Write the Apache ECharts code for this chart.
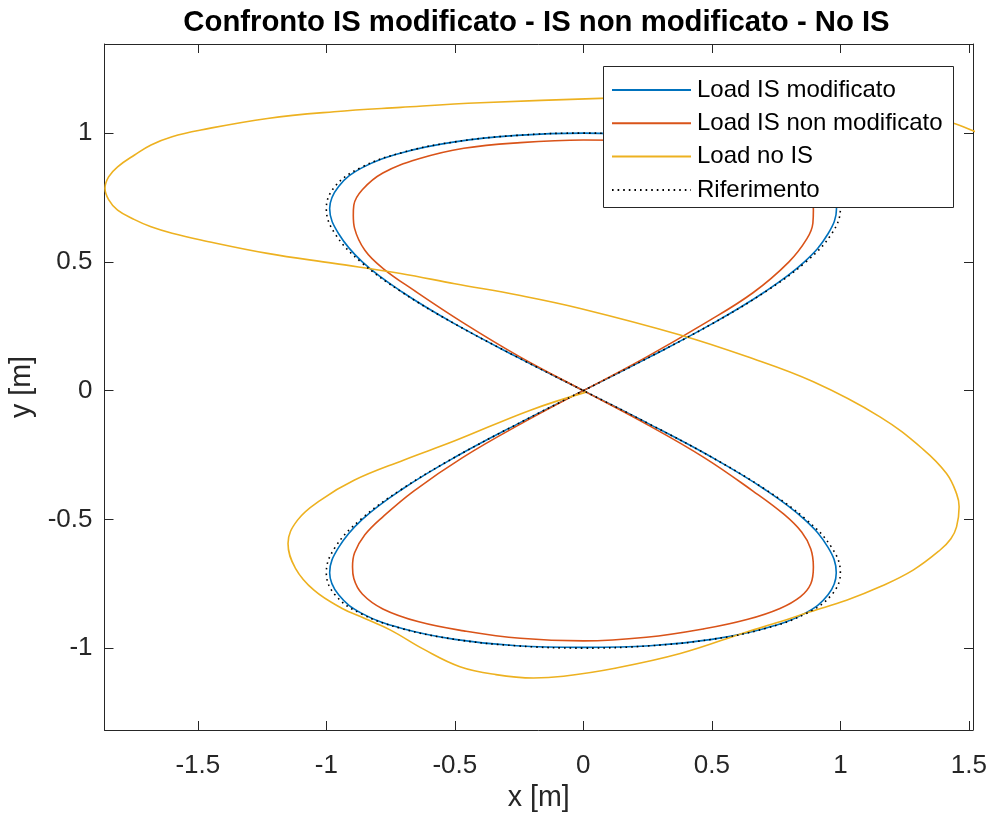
<!DOCTYPE html>
<html><head><meta charset="utf-8">
<script src="https://cdn.jsdelivr.net/npm/echarts@6/dist/echarts.min.js"></script>
<style>html,body{margin:0;padding:0;background:#fff}#c{width:989px;height:818px}</style>
</head><body><div id="c"></div>
<script>
const titleText = 'Confronto IS modificato - IS non modificato - No IS';
const seriesNames = ['Load IS modificato', 'Load IS non modificato', 'Load no IS', 'Riferimento'];
const xTicks = [-1.5, -1, -0.5, 0, 0.5, 1, 1.5];
const yTicks = [-1, -0.5, 0, 0.5, 1];
const xRange = [-1.863, 1.516];
const yRange = [-1.318, 1.346];

// Riferimento (dotted)
const refX = [0, 0.259, 0.5, 0.707, 0.866, 0.966, 1.0, 0.966, 0.866, 0.707, 0.5, 0.259, 0, -0.259, -0.5, -0.707, -0.866, -0.966, -1.0, -0.966, -0.866, -0.707, -0.5, -0.259, 0,
              0.259, 0.5, 0.707, 0.866, 0.966, 1.0, 0.966, 0.866, 0.707, 0.5, 0.259, 0, -0.259, -0.5, -0.707, -0.866, -0.966, -1.0, -0.966, -0.866, -0.707, -0.5, -0.259, 0];
const refY = [0, 0.131, 0.259, 0.383, 0.5, 0.609, 0.707, 0.793, 0.866, 0.924, 0.966, 0.991, 1.0, 0.991, 0.966, 0.924, 0.866, 0.793, 0.707, 0.609, 0.5, 0.383, 0.259, 0.131, 0,
              -0.131, -0.259, -0.383, -0.5, -0.609, -0.707, -0.793, -0.866, -0.924, -0.966, -0.991, -1.0, -0.991, -0.966, -0.924, -0.866, -0.793, -0.707, -0.609, -0.5, -0.383, -0.259, -0.131, 0];

// Load IS modificato (blue)
const blueX = [0, 0.259, 0.5, 0.705, 0.86, 0.952, 0.985, 0.952, 0.86, 0.705, 0.5, 0.259, 0, -0.259, -0.5, -0.705, -0.86, -0.952, -0.987, -0.952, -0.86, -0.705, -0.5, -0.259, 0,
               0.259, 0.5, 0.705, 0.86, 0.952, 0.984, 0.952, 0.86, 0.705, 0.5, 0.259, 0, -0.259, -0.5, -0.705, -0.86, -0.952, -0.987, -0.952, -0.86, -0.705, -0.5, -0.259, 0];
const blueY = [0, 0.131, 0.259, 0.383, 0.5, 0.609, 0.707, 0.793, 0.866, 0.924, 0.966, 0.991, 1.0, 0.991, 0.966, 0.924, 0.866, 0.793, 0.707, 0.609, 0.5, 0.383, 0.259, 0.131, 0,
               -0.131, -0.259, -0.383, -0.5, -0.609, -0.707, -0.793, -0.866, -0.924, -0.966, -0.991, -0.997, -0.991, -0.966, -0.924, -0.866, -0.793, -0.707, -0.609, -0.5, -0.383, -0.259, -0.131, 0];

// Load IS non modificato (red)
const redX = [0, 0.245, 0.47, 0.66, 0.8, 0.87, 0.893, 0.895, 0.893, 0.87, 0.8, 0.66, 0.47, 0.245, 0,
              -0.245, -0.465, -0.64, -0.78, -0.86, -0.893, -0.895, -0.89, -0.85, -0.78, -0.66, -0.47, -0.245, 0,
              0.245, 0.47, 0.66, 0.78, 0.85, 0.885, 0.895, 0.885, 0.845, 0.765, 0.64, 0.47, 0.245, 0,
              -0.245, -0.465, -0.64, -0.78, -0.86, -0.893, -0.898, -0.89, -0.85, -0.78, -0.66, -0.47, -0.245, 0];
const redY = [0, 0.13, 0.26, 0.38, 0.5, 0.59, 0.65, 0.7, 0.75, 0.81, 0.865, 0.915, 0.95, 0.968, 0.973,
              0.963, 0.941, 0.9, 0.845, 0.78, 0.72, 0.68, 0.63, 0.545, 0.475, 0.39, 0.265, 0.13, 0,
              -0.13, -0.26, -0.39, -0.48, -0.55, -0.615, -0.685, -0.75, -0.8, -0.846, -0.888, -0.925, -0.958, -0.972,
              -0.962, -0.933, -0.898, -0.848, -0.79, -0.73, -0.685, -0.63, -0.56, -0.49, -0.39, -0.26, -0.13, 0];

// Load no IS (yellow)
const yelX = [1.6, 1.516, 1.432, 1.3, 1.1, 0.8, 0.4, 0.066, -0.4, -0.711, -0.97, -1.229, -1.488, -1.6, -1.682, -1.746, -1.812, -1.847, -1.861, -1.847, -1.812, -1.746, -1.682, -1.6, -1.488, -1.229, -0.97, -0.711, -0.5, -0.25, -0.012,
              0.377, 0.636, 0.895, 1.154, 1.322, 1.413, 1.452, 1.462, 1.452, 1.43, 1.387, 1.283, 1.154, 1.024, 0.882, 0.765, 0.636, 0.377, 0.118, -0.077, -0.194, -0.34, -0.48, -0.62, -0.75, -0.85,
              -0.94, -1.048, -1.12, -1.149, -1.112, -1.022, -0.892, -0.7, -0.5, -0.206, 0.014];
const yelY = [0.97, 1.009, 1.04, 1.065, 1.095, 1.125, 1.14, 1.135, 1.118, 1.1, 1.083, 1.057, 1.012, 0.986, 0.954, 0.915, 0.869, 0.83, 0.786, 0.742, 0.701, 0.664, 0.636, 0.611, 0.585, 0.533, 0.494, 0.455, 0.415, 0.37, 0.319,
              0.216, 0.132, 0.034, -0.102, -0.228, -0.322, -0.4, -0.451, -0.529, -0.575, -0.62, -0.697, -0.762, -0.814, -0.859, -0.898, -0.937, -1.021, -1.079, -1.109, -1.116, -1.103, -1.072, -1.005, -0.93, -0.885,
              -0.845, -0.775, -0.69, -0.594, -0.503, -0.425, -0.348, -0.27, -0.195, -0.076, -0.005];

const colors = ['#0072BD', '#D95319', '#EDB120', '#000000'];
const FONT = '"Liberation Sans", Arial, Helvetica, sans-serif';
const AX = '#262626';

function pairs(xs, ys) { return xs.map((x, i) => [x, ys[i]]); }

const chart = echarts.init(document.getElementById('c'), null, {renderer: 'canvas'});

function axisCommon(range, ticks, showLabel, margin) {
  return {
    type: 'value', min: range[0], max: range[1],
    axisLine: {show: true, onZero: false, lineStyle: {color: AX, width: 1}},
    axisTick: {show: true, inside: true, length: 9, customValues: ticks, lineStyle: {color: AX, width: 1}},
    axisLabel: {show: showLabel, customValues: ticks, color: AX, fontFamily: FONT, fontSize: 26, margin: margin},
    splitLine: {show: false}
  };
}

const xBottom = Object.assign(axisCommon(xRange, xTicks, true, 23), {
  position: 'bottom', name: 'x [m]', nameLocation: 'middle', nameGap: 54, nameMoveOverlap: false,
  nameTextStyle: {color: AX, fontFamily: FONT, fontSize: 28.6}
});
const xTop = Object.assign(axisCommon(xRange, xTicks, false, 8), {position: 'top'});
const yLeft = Object.assign(axisCommon(yRange, yTicks, true, 12), {
  position: 'left', name: 'y [m]', nameLocation: 'middle', nameGap: 68, nameMoveOverlap: false,
  nameTextStyle: {color: AX, fontFamily: FONT, fontSize: 28.6}
});
const yRight = Object.assign(axisCommon(yRange, yTicks, false, 8), {position: 'right'});

function lineSeries(name, data, color, extra) {
  return Object.assign({
    name: name, type: 'line', data: data, xAxisIndex: 0, yAxisIndex: 0,
    showSymbol: false, symbol: 'none', smooth: 0.4, clip: true, animation: false,
    lineStyle: {color: color, width: 1.6}, itemStyle: {color: color}
  }, extra || {});
}

const legendBox = {left: 603, top: 66, width: 350, height: 141};

chart.setOption({
  backgroundColor: '#ffffff',
  animation: false,
  title: {
    text: titleText, left: 531.5, top: 3, textAlign: 'center',
    textStyle: {fontFamily: FONT, fontSize: 29.3, fontWeight: 'bold', color: '#000'}
  },
  grid: {left: 104.5, right: 16, top: 44, bottom: 88, containLabel: false, outerBoundsMode: 'none'},
  xAxis: [xBottom, xTop],
  yAxis: [yLeft, yRight],
  graphic: [{
    type: 'rect', left: legendBox.left, top: legendBox.top, z: 10,
    shape: {width: legendBox.width, height: legendBox.height},
    style: {fill: '#fff', stroke: AX, lineWidth: 1}
  }],
  legend: {
    orient: 'vertical', left: 611, top: 77, z: 20,
    itemWidth: 79, itemHeight: 10, itemGap: 7.3,
    data: seriesNames,
    itemStyle: {opacity: 0},
    textStyle: {fontFamily: FONT, fontSize: 24, color: '#000', lineHeight: 26, padding: [0, 0, 0, 1]},
    padding: 0, selectedMode: false
  },
  series: [
    lineSeries(seriesNames[0], pairs(blueX, blueY), colors[0]),
    lineSeries(seriesNames[1], pairs(redX, redY), colors[1]),
    lineSeries(seriesNames[2], pairs(yelX, yelY), colors[2]),
    lineSeries(seriesNames[3], pairs(refX, refY), colors[3], {lineStyle: {color: '#000', width: 1.6, type: [1.6, 4]}})
  ]
});
</script></body></html>
